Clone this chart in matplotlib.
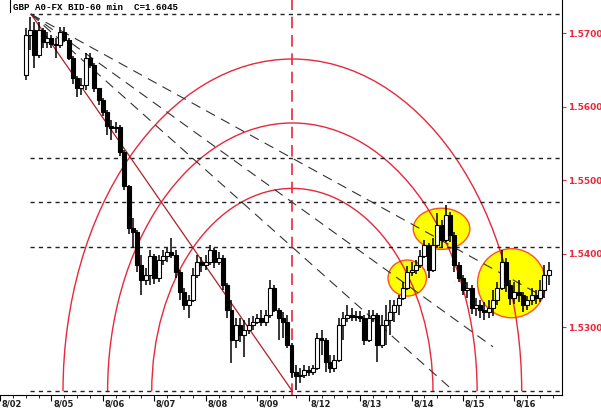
import matplotlib
matplotlib.use('Agg')
import matplotlib.pyplot as plt
import matplotlib.transforms as mtrans
from matplotlib.patches import Arc, Ellipse

# time axis in hours, 0 = 8/05 00:00 (weekend removed), 2-hour bars
bar_hours = list(range(-12, 234, 2))

opens = [1.5643, 1.5698, 1.5705, 1.5670, 1.5705, 1.5688, 1.5694, 1.5685, 1.5684, 1.5702,
         1.5691, 1.5666, 1.5639, 1.5626, 1.5630, 1.5666, 1.5657, 1.5626, 1.5609, 1.5593,
         1.5574, 1.5571, 1.5573, 1.5538, 1.5492, 1.5435, 1.5430, 1.5385, 1.5364, 1.5371,
         1.5397, 1.5367, 1.5392, 1.5397, 1.5402, 1.5398, 1.5375, 1.5348, 1.5330, 1.5337,
         1.5371, 1.5389, 1.5385, 1.5389, 1.5405, 1.5389, 1.5394, 1.5358, 1.5324, 1.5283,
         1.5303, 1.5290, 1.5296, 1.5303, 1.5307, 1.5313, 1.5307, 1.5317, 1.5354, 1.5324,
         1.5313, 1.5307, 1.5276, 1.5239, 1.5234, 1.5235, 1.5242, 1.5239, 1.5245, 1.5285,
         1.5283, 1.5253, 1.5245, 1.5255, 1.5303, 1.5313, 1.5317, 1.5314, 1.5315, 1.5313,
         1.5283, 1.5313, 1.5317, 1.5276, 1.5303, 1.5310, 1.5321, 1.5330, 1.5340, 1.5354,
         1.5375, 1.5378, 1.5385, 1.5397, 1.5412, 1.5378, 1.5412, 1.5439, 1.5419, 1.5453,
         1.5426, 1.5385, 1.5367, 1.5351, 1.5354, 1.5326, 1.5330, 1.5324, 1.5321, 1.5326,
         1.5337, 1.5354, 1.5389, 1.5358, 1.5340, 1.5348, 1.5344, 1.5330, 1.5337, 1.5344,
         1.5340, 1.5351, 1.5371]
highs = [1.5707, 1.5722, 1.5715, 1.5715, 1.5707, 1.5702, 1.5698, 1.5694, 1.5709, 1.5709,
         1.5694, 1.5669, 1.5642, 1.5639, 1.5673, 1.5673, 1.5660, 1.5626, 1.5612, 1.5596,
         1.5582, 1.5579, 1.5575, 1.5541, 1.5494, 1.5449, 1.5432, 1.5398, 1.5381, 1.5405,
         1.5400, 1.5398, 1.5405, 1.5408, 1.5421, 1.5405, 1.5378, 1.5354, 1.5344, 1.5381,
         1.5398, 1.5396, 1.5398, 1.5412, 1.5408, 1.5402, 1.5398, 1.5360, 1.5337, 1.5313,
         1.5313, 1.5310, 1.5313, 1.5315, 1.5318, 1.5324, 1.5324, 1.5364, 1.5358, 1.5326,
         1.5321, 1.5317, 1.5279, 1.5249, 1.5245, 1.5249, 1.5247, 1.5249, 1.5292, 1.5296,
         1.5285, 1.5262, 1.5262, 1.5313, 1.5321, 1.5330, 1.5326, 1.5322, 1.5322, 1.5317,
         1.5324, 1.5324, 1.5319, 1.5317, 1.5330, 1.5337, 1.5337, 1.5344, 1.5362, 1.5383,
         1.5389, 1.5392, 1.5405, 1.5419, 1.5415, 1.5421, 1.5456, 1.5446, 1.5466, 1.5457,
         1.5430, 1.5389, 1.5371, 1.5362, 1.5358, 1.5340, 1.5337, 1.5334, 1.5337, 1.5351,
         1.5362, 1.5405, 1.5394, 1.5364, 1.5362, 1.5364, 1.5348, 1.5343, 1.5354, 1.5351,
         1.5364, 1.5385, 1.5389]
lows = [1.5636, 1.5677, 1.5653, 1.5666, 1.5680, 1.5680, 1.5680, 1.5666, 1.5680, 1.5688,
        1.5664, 1.5631, 1.5613, 1.5616, 1.5623, 1.5653, 1.5620, 1.5602, 1.5587, 1.5562,
        1.5555, 1.5564, 1.5533, 1.5487, 1.5427, 1.5408, 1.5375, 1.5344, 1.5358, 1.5358,
        1.5359, 1.5362, 1.5385, 1.5389, 1.5394, 1.5367, 1.5337, 1.5324, 1.5313, 1.5334,
        1.5367, 1.5375, 1.5378, 1.5385, 1.5381, 1.5385, 1.5351, 1.5313, 1.5251, 1.5272,
        1.5280, 1.5260, 1.5291, 1.5296, 1.5304, 1.5302, 1.5302, 1.5313, 1.5321, 1.5283,
        1.5285, 1.5272, 1.5231, 1.5215, 1.5224, 1.5231, 1.5234, 1.5235, 1.5242, 1.5262,
        1.5239, 1.5238, 1.5239, 1.5253, 1.5283, 1.5307, 1.5309, 1.5309, 1.5307, 1.5276,
        1.5280, 1.5307, 1.5253, 1.5272, 1.5276, 1.5290, 1.5307, 1.5317, 1.5337, 1.5351,
        1.5370, 1.5373, 1.5381, 1.5394, 1.5367, 1.5375, 1.5408, 1.5408, 1.5416, 1.5416,
        1.5375, 1.5362, 1.5344, 1.5340, 1.5318, 1.5315, 1.5313, 1.5310, 1.5313, 1.5315,
        1.5330, 1.5351, 1.5348, 1.5330, 1.5332, 1.5334, 1.5321, 1.5324, 1.5330, 1.5332,
        1.5334, 1.5340, 1.5358]
closes = [1.5698, 1.5705, 1.5670, 1.5705, 1.5688, 1.5694, 1.5685, 1.5684, 1.5702, 1.5691,
          1.5666, 1.5639, 1.5626, 1.5630, 1.5666, 1.5657, 1.5626, 1.5609, 1.5593, 1.5574,
          1.5571, 1.5573, 1.5538, 1.5492, 1.5435, 1.5430, 1.5385, 1.5364, 1.5371, 1.5397,
          1.5367, 1.5392, 1.5397, 1.5402, 1.5398, 1.5375, 1.5348, 1.5330, 1.5337, 1.5371,
          1.5389, 1.5385, 1.5389, 1.5405, 1.5389, 1.5394, 1.5358, 1.5324, 1.5283, 1.5303,
          1.5290, 1.5296, 1.5303, 1.5307, 1.5313, 1.5307, 1.5317, 1.5354, 1.5324, 1.5313,
          1.5307, 1.5276, 1.5239, 1.5234, 1.5235, 1.5242, 1.5239, 1.5245, 1.5285, 1.5283,
          1.5253, 1.5245, 1.5255, 1.5303, 1.5313, 1.5317, 1.5314, 1.5315, 1.5313, 1.5283,
          1.5313, 1.5317, 1.5276, 1.5303, 1.5310, 1.5321, 1.5330, 1.5340, 1.5354, 1.5375,
          1.5378, 1.5385, 1.5397, 1.5412, 1.5378, 1.5412, 1.5439, 1.5419, 1.5453, 1.5426,
          1.5385, 1.5367, 1.5351, 1.5354, 1.5326, 1.5330, 1.5324, 1.5321, 1.5326, 1.5337,
          1.5354, 1.5389, 1.5358, 1.5340, 1.5348, 1.5344, 1.5330, 1.5337, 1.5344, 1.5340,
          1.5351, 1.5371, 1.5378]

day_starts = [-24, 0, 24, 48, 72, 96, 120, 144, 168, 192, 216]
day_labels = ['8/02', '8/05', '8/06', '8/07', '8/08', '8/09',
              '8/12', '8/13', '8/14', '8/15', '8/16']
y_ticks = [1.53, 1.54, 1.55, 1.56, 1.57]

# retracement levels (high, 61.8, 50, 38.2, low)
fib_levels = [1.5726, 1.5530, 1.5470, 1.5409, 1.5213]
high_hour, high_price = -9.5, 1.5726
low_hour, low_price = 112.4, 1.5213
fan_levels = [1.5530, 1.5470, 1.5409]
fan_end_hours = [230, 206, 188]
arc_rx = [65.6, 86.2, 107.0]
arc_ry = [0.0276, 0.0365, 0.0452]

# highlighted zones
zone_x = [166.0, 182.0, 214.7]
zone_y = [1.5367, 1.5434, 1.5360]
zone_w = [17.9, 26.4, 31.8]
zone_h = [0.0049, 0.0056, 0.0094]

red = '#e8283c'

fig = plt.figure(figsize=(6.01, 4.09), dpi=100)
ax = fig.add_axes([0, 14 / 409, 562 / 601, 395 / 409])
ax.set_xlim(-13.4, 238.2)
ax.set_ylim(1.52079, 1.57453)

for x, y, w, h in zip(zone_x, zone_y, zone_w, zone_h):
    ax.add_patch(Ellipse((x, y), w, h, facecolor='#ffff00', edgecolor='#ff5020',
                         lw=1, zorder=1))

for rx, ry in zip(arc_rx, arc_ry):
    ax.add_patch(Arc((low_hour, low_price), 2 * rx, 2 * ry, theta1=0, theta2=180,
                     color=red, lw=1, zorder=2))

ax.hlines(fib_levels, -10, 238.2, colors='#222222', linestyles=(0, (3, 3)), lw=1, zorder=2)
ax.axvline(low_hour, color=red, lw=1.2, ls=(0, (7, 4)), zorder=2)

# trend line and fan lines from the swing high
ax.plot([high_hour, low_hour], [high_price, low_price], color='#b02028', lw=0.9, zorder=2)
for lev, t_end in zip(fan_levels, fan_end_hours):
    frac = (t_end - high_hour) / (low_hour - high_hour)
    p_end = high_price + (lev - high_price) * frac
    ax.plot([high_hour, t_end], [high_price, p_end], color='#333333', lw=0.8,
            ls=(0, (9, 6)), zorder=2)

# candles
ax.vlines(bar_hours, lows, highs, color='black', lw=1.1, zorder=3)
for t, o, c in zip(bar_hours, opens, closes):
    face = 'black' if c < o else 'white'
    ax.bar(t, max(abs(c - o), 0.00008), bottom=min(o, c), width=1.85,
           color=face, edgecolor='black', lw=0.8, zorder=4)

# axes styling
for s in ['left', 'top']:
    ax.spines[s].set_visible(False)
ax.spines['right'].set_color('black')
ax.spines['bottom'].set_color('black')
ax.yaxis.tick_right()
ax.set_yticks(y_ticks)
ax.set_yticklabels(['%.4f' % v for v in y_ticks])
ax.tick_params(axis='y', colors=red, labelsize=6.5, length=3, pad=1)
for lab in ax.get_yticklabels():
    lab.set_fontweight('bold')

ax.set_xticks(day_starts)
ax.set_xticklabels([])
ax.set_xticks(list(range(-18, 238, 6)), minor=True)
ax.tick_params(axis='x', which='major', length=4, color='black')
ax.tick_params(axis='x', which='minor', length=2, color='black')
trans = mtrans.blended_transform_factory(ax.transData, ax.transAxes)
for d, lab in zip(day_starts, day_labels):
    ax.text(d + 5.5, -9 / 395, lab, transform=trans, ha='center', va='center',
            fontsize=6, color='#202020', fontweight='bold', clip_on=False)

ax.text(13 / 562, 1 - 7 / 395, 'GBP A0-FX BID-60 min  C=1.6045', transform=ax.transAxes,
        family='Liberation Mono', fontweight='bold', fontsize=6.6, va='center')
ax.plot([10 / 562, 10 / 562], [1, 1 - 12 / 395], transform=ax.transAxes,
        color='black', lw=0.8, clip_on=False)

fig.savefig('out.png', dpi=100)
